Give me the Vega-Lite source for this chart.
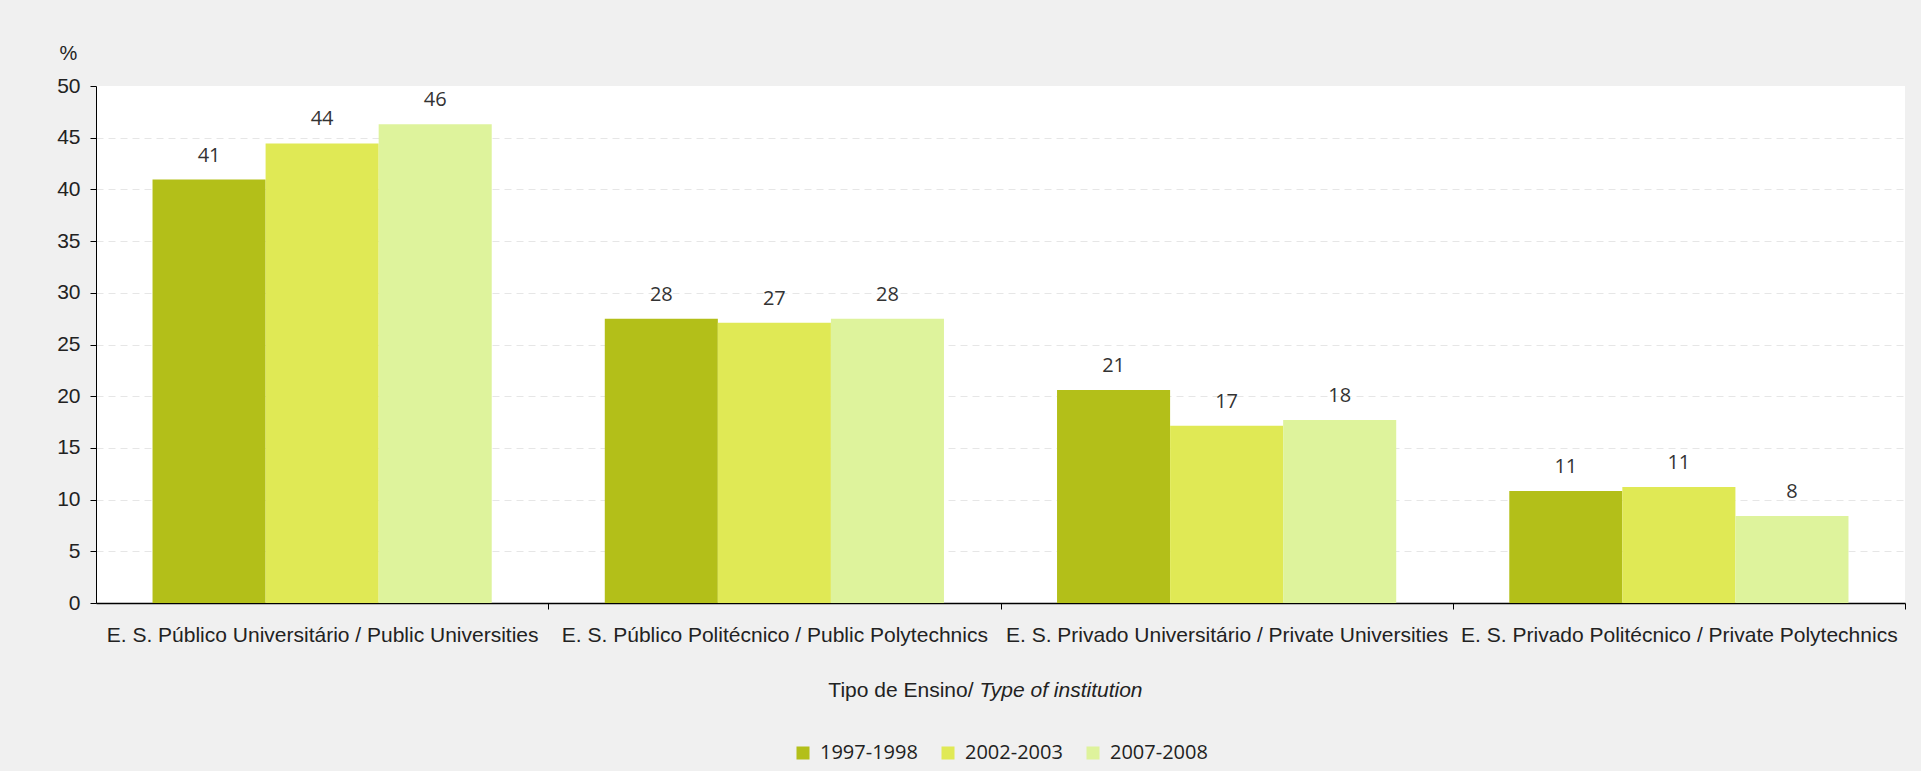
{
  "$schema": "https://vega.github.io/schema/vega-lite/v6.json",
  "width": 1809,
  "height": 517,
  "autosize": {"type": "none"},
  "padding": {"left": 96, "top": 86, "right": 16, "bottom": 168},
  "background": "#f0f0f0",
  "config": {
    "view": {"fill": "white", "stroke": null},
    "font": "Liberation Sans"
  },
  "data": {
    "values": [
      {"tipo": "E. S. Público Universitário / Public Universities", "ano": "1997-1998", "pct": 40.95},
      {"tipo": "E. S. Público Universitário / Public Universities", "ano": "2002-2003", "pct": 44.45},
      {"tipo": "E. S. Público Universitário / Public Universities", "ano": "2007-2008", "pct": 46.3},
      {"tipo": "E. S. Público Politécnico / Public Polytechnics", "ano": "1997-1998", "pct": 27.5},
      {"tipo": "E. S. Público Politécnico / Public Polytechnics", "ano": "2002-2003", "pct": 27.1},
      {"tipo": "E. S. Público Politécnico / Public Polytechnics", "ano": "2007-2008", "pct": 27.5},
      {"tipo": "E. S. Privado Universitário / Private Universities", "ano": "1997-1998", "pct": 20.6},
      {"tipo": "E. S. Privado Universitário / Private Universities", "ano": "2002-2003", "pct": 17.15},
      {"tipo": "E. S. Privado Universitário / Private Universities", "ano": "2007-2008", "pct": 17.7},
      {"tipo": "E. S. Privado Politécnico / Private Polytechnics", "ano": "1997-1998", "pct": 10.83},
      {"tipo": "E. S. Privado Politécnico / Private Polytechnics", "ano": "2002-2003", "pct": 11.22},
      {"tipo": "E. S. Privado Politécnico / Private Polytechnics", "ano": "2007-2008", "pct": 8.41}
    ]
  },
  "layer": [
    {
      "mark": {"type": "bar"},
      "encoding": {
        "x": {
          "field": "tipo", "type": "nominal", "sort": null,
          "scale": {"paddingInner": 0.25, "paddingOuter": 0.125},
          "axis": {
            "orient": "bottom",
            "labelAngle": 0, "labelLimit": 600, "labelFontSize": 21, "labelColor": "#222",
            "labelPadding": 15, "labelOffset": -226.125,
            "tickOffset": 226.125, "tickSize": 6, "tickColor": "#000",
            "domainColor": "#000", "domainWidth": 1.5,
            "title": "Tipo de Ensino/", "titleFontSize": 21, "titleFontWeight": "normal", "titleColor": "#222",
            "titleAlign": "right", "titleBaseline": "middle", "titleX": 877, "titleY": 87
          }
        },
        "xOffset": {"field": "ano", "type": "nominal", "sort": null},
        "y": {
          "field": "pct", "type": "quantitative",
          "scale": {"domain": [0, 50], "nice": false},
          "axis": {
            "values": [0, 5, 10, 15, 20, 25, 30, 35, 40, 45, 50],
            "labelFontSize": 21, "labelColor": "#222", "labelPadding": 10,
            "tickSize": 6, "tickColor": "#000", "domainColor": "#000",
            "gridColor": {"condition": {"test": "datum.value === 50", "value": "transparent"}, "value": "#e6e6e6"},
            "gridDash": [7, 5],
            "title": "%", "titleAngle": 0, "titleX": -28, "titleY": -33,
            "titleAlign": "center", "titleBaseline": "middle",
            "titleFontSize": 20, "titleFontWeight": "normal", "titleColor": "#222"
          }
        },
        "color": {
          "field": "ano", "type": "nominal",
          "scale": {"domain": ["1997-1998", "2002-2003", "2007-2008"], "range": ["#b3bf19", "#e0e955", "#def39c"]},
          "legend": {
            "title": null, "orient": "none", "direction": "horizontal",
            "legendX": 697, "legendY": 657,
            "symbolType": "square", "symbolSize": 169, "symbolStrokeWidth": 0,
            "labelFont": "Open Sans", "labelFontSize": 20, "labelColor": "#222",
            "labelOffset": 7, "columnPadding": 20, "padding": 0
          }
        }
      }
    },
    {
      "mark": {"type": "text", "baseline": "alphabetic", "dy": -18, "font": "Open Sans", "fontSize": 20, "color": "#333"},
      "encoding": {
        "x": {
          "field": "tipo", "type": "nominal", "sort": null,
          "axis": {
            "orient": "top", "labels": false, "ticks": false, "domain": false, "grid": false,
            "title": "Type of institution", "titleFontStyle": "italic", "titleFontSize": 21,
            "titleFontWeight": "normal", "titleColor": "#222",
            "titleAlign": "left", "titleBaseline": "middle", "titleX": 883, "titleY": 604
          }
        },
        "xOffset": {"field": "ano", "type": "nominal", "sort": null},
        "y": {"field": "pct", "type": "quantitative"},
        "text": {"field": "pct", "type": "quantitative", "format": ".0f"}
      }
    }
  ],
  "resolve": {"axis": {"x": "independent"}}
}
